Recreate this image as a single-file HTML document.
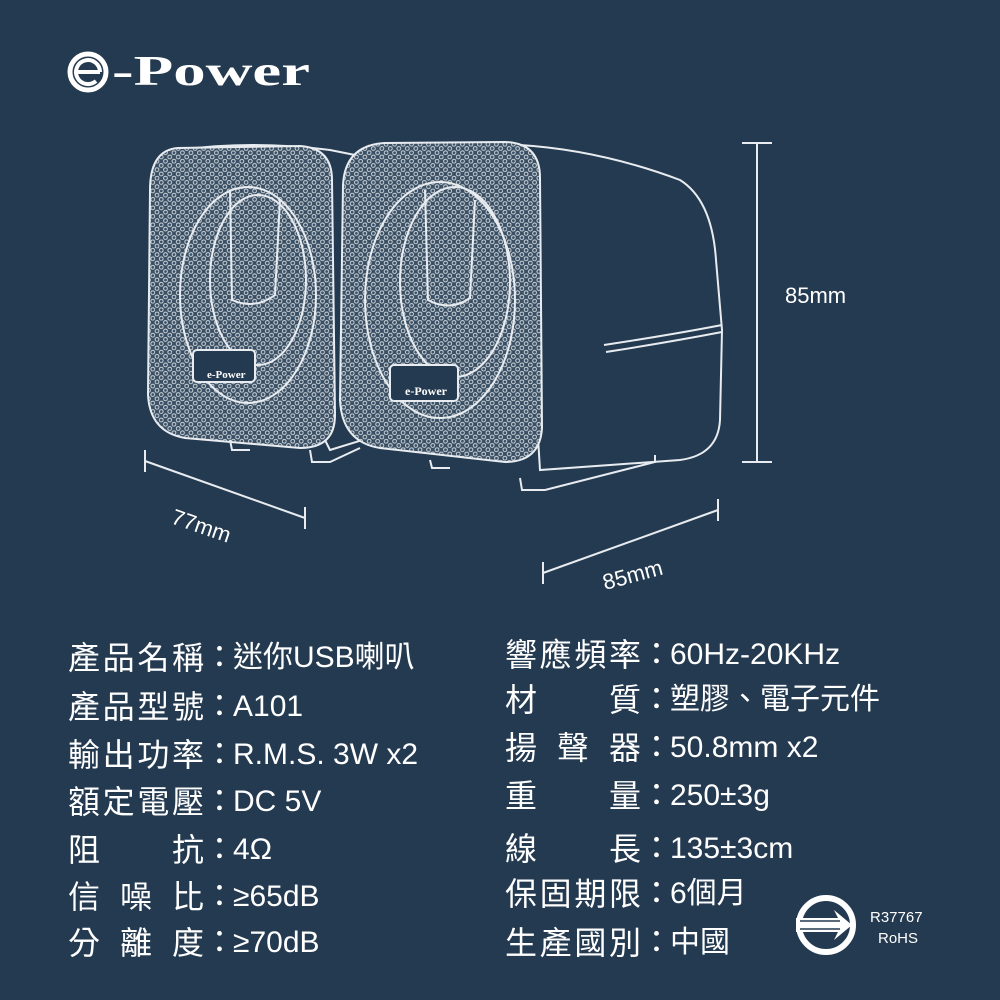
<!DOCTYPE html>
<html><head><meta charset="utf-8"><style>
html,body{margin:0;padding:0;background:#243a50;}
#c{position:relative;width:1000px;height:1000px;overflow:hidden;background:#243a50;font-family:"Liberation Sans","Noto Sans CJK TC",sans-serif;color:#fff;}
.r{position:absolute;display:flex;align-items:center;font-size:31px;line-height:34px;white-space:nowrap}
.l{width:136px;text-align:justify;text-align-last:justify;font-size:32px}
.k{width:28px;text-align:center}
.v{font-size:30px;margin-left:1px}
</style></head><body><div id="c">
<svg width="1000" height="1000" style="position:absolute;left:0;top:0">
<defs>
<pattern id="m" width="6" height="6" patternUnits="userSpaceOnUse" patternTransform="rotate(45)">
<rect width="6" height="6" fill="#3a4f63"/><circle cx="3" cy="3" r="1.9" fill="none" stroke="#dfe5ea" stroke-width="0.9"/>
</pattern>
</defs>
<circle cx="88" cy="72" r="18" fill="none" stroke="#fff" stroke-width="5"/>
<path d="M76 72 H100 M100 72 a12 12 0 1 0 -4 9" fill="none" stroke="#fff" stroke-width="4"/>
<text x="112" y="85" font-family="Liberation Serif" font-weight="bold" font-size="42" fill="#fff" textLength="198" lengthAdjust="spacingAndGlyphs">-Power</text>
<g fill="none" stroke="#e8ecf0" stroke-width="2">
<path d="M180 150 Q250 140 330 150 L380 160 L395 430 L330 450 Z" fill="#243a50"/>
<path d="M178 148 Q150 150 150 190 L148 395 Q150 432 185 438 L300 448 Q335 448 335 415 L332 180 Q332 148 300 146 Z" fill="url(#m)"/>
<ellipse cx="248" cy="295" rx="68" ry="108" />
<ellipse cx="258" cy="280" rx="48" ry="85" />
<path d="M230 190 L232 300 Q255 310 275 295 L280 200" />
<rect x="193" y="350" width="62" height="32" rx="4" fill="#243a50"/>
<path d="M310 450 L312 462 L330 462 L360 448"/>
<path d="M230 440 L232 450 L250 450"/>
<path d="M520 145 Q600 150 680 180 Q712 200 716 260 L722 330 L720 420 Q718 455 680 460 L540 470 Z" fill="#243a50"/>
<path d="M604 345 Q670 335 722 325"/>
<path d="M606 352 Q670 342 722 332"/>
<path d="M385 143 Q345 145 343 185 L340 400 Q342 442 380 448 L505 462 Q540 462 542 428 L540 178 Q540 143 505 142 Z" fill="url(#m)"/>
<ellipse cx="440" cy="300" rx="75" ry="118"/>
<ellipse cx="455" cy="282" rx="55" ry="95"/>
<path d="M425 190 L428 300 Q450 312 470 298 L475 200"/>
<rect x="390" y="365" width="68" height="36" rx="4" fill="#243a50"/>
<path d="M520 478 L522 490 L545 490 L655 462 L655 455"/>
<path d="M430 460 L432 468 L450 468"/>
<path d="M757 143 V462 M742 143 H772 M742 462 H772"/>
<path d="M145 461 L305 518 M145 450 L145 472 M305 507 L305 529"/>
<path d="M543 573 L718 510 M543 562 V584 M718 499 V521"/>
</g>
<text x="207" y="378" font-family="Liberation Serif" font-weight="bold" font-size="11" fill="#fff">e-Power</text>
<text x="405" y="395" font-family="Liberation Serif" font-weight="bold" font-size="12" fill="#fff">e-Power</text>
<text x="785" y="303" font-size="22" fill="#fff" font-family="Liberation Sans">85mm</text>
<text x="170" y="523" font-size="22" fill="#fff" font-family="Liberation Sans" transform="rotate(19 170 523)">77mm</text>
<text x="605" y="590" font-size="22" fill="#fff" font-family="Liberation Sans" transform="rotate(-15 605 590)">85mm</text>
<circle cx="826" cy="925" r="27" fill="none" stroke="#fff" stroke-width="6"/>
<path d="M796 918 H838 L834 910 L852 925 L834 940 L838 932 H796 Z" fill="#fff"/>
<path d="M800 921 H840 M800 929 H840" stroke="#243a50" stroke-width="1.5"/>
<text x="870" y="922" font-size="15" fill="#fff" font-family="Liberation Sans">R37767</text>
<text x="878" y="943" font-size="15" fill="#fff" font-family="Liberation Sans">RoHS</text>
</svg>
<div class="r" style="left:68px;top:641px"><span class="l">產品名稱</span><span class="k">：</span><span class="v">迷你USB喇叭</span></div>
<div class="r" style="left:68px;top:690px"><span class="l">產品型號</span><span class="k">：</span><span class="v">A101</span></div>
<div class="r" style="left:68px;top:738px"><span class="l">輸出功率</span><span class="k">：</span><span class="v">R.M.S. 3W x2</span></div>
<div class="r" style="left:68px;top:785px"><span class="l">額定電壓</span><span class="k">：</span><span class="v">DC 5V</span></div>
<div class="r" style="left:68px;top:833px"><span class="l">阻抗</span><span class="k">：</span><span class="v">4Ω</span></div>
<div class="r" style="left:68px;top:880px"><span class="l">信噪比</span><span class="k">：</span><span class="v">≥65dB</span></div>
<div class="r" style="left:68px;top:926px"><span class="l">分離度</span><span class="k">：</span><span class="v">≥70dB</span></div>
<div class="r" style="left:505px;top:638px"><span class="l">響應頻率</span><span class="k">：</span><span class="v">60Hz-20KHz</span></div>
<div class="r" style="left:505px;top:683px"><span class="l">材質</span><span class="k">：</span><span class="v">塑膠、電子元件</span></div>
<div class="r" style="left:505px;top:731px"><span class="l">揚聲器</span><span class="k">：</span><span class="v">50.8mm x2</span></div>
<div class="r" style="left:505px;top:779px"><span class="l">重量</span><span class="k">：</span><span class="v">250±3g</span></div>
<div class="r" style="left:505px;top:832px"><span class="l">線長</span><span class="k">：</span><span class="v">135±3cm</span></div>
<div class="r" style="left:505px;top:877px"><span class="l">保固期限</span><span class="k">：</span><span class="v">6個月</span></div>
<div class="r" style="left:505px;top:926px"><span class="l">生產國別</span><span class="k">：</span><span class="v">中國</span></div>
</div></body></html>
